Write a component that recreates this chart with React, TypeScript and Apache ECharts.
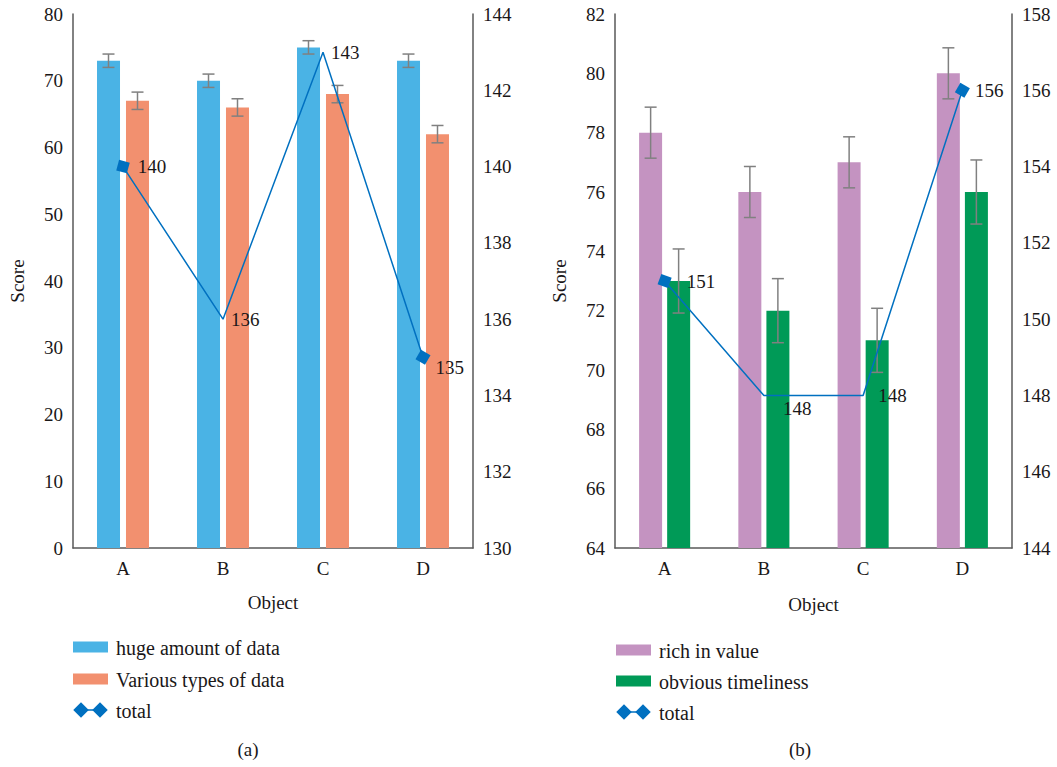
import React, { useEffect, useRef } from "react";
import * as echarts from "echarts";

// Objects on the horizontal axis (shared by both panels)
const categories = ["A", "B", "C", "D"];

// Panel (a)
const hugeAmount = [73, 70, 75, 73];
const hugeAmountErr = [1, 1, 1, 1];
const variousTypes = [67, 66, 68, 62];
const variousTypesErr = [1.3, 1.3, 1.3, 1.3];
const totalA = [140, 136, 143, 135];

// Panel (b)
const richValue = [78, 76, 77, 80];
const richValueErr = [0.86, 0.86, 0.86, 0.86];
const timeliness = [73, 72, 71, 76];
const timelinessErr = [1.08, 1.08, 1.08, 1.08];
const totalB = [151, 148, 148, 156];

const FONT = "Liberation Serif";
const FS = 19;
const LEGEND_FS = 20;
const TEXT = "#1a1718";
const AXIS = "#595959";
const ERR = "#808080";

const BLUE = "#4ab3e5";
const ORANGE = "#f2906f";
const PURPLE = "#c493c1";
const GREEN = "#009a57";
const LINE = "#0070c0";

function errorBars(offsetPx: number) {
  return (params: any, api: any) => {
    const cat = api.value(0);
    const lo = api.coord([cat, api.value(1)]);
    const hi = api.coord([cat, api.value(2)]);
    const x = lo[0] + offsetPx;
    const half = 6;
    const style = { stroke: ERR, lineWidth: 1.5 };
    return {
      type: "group",
      children: [
        { type: "line", shape: { x1: x, y1: hi[1], x2: x, y2: lo[1] }, style },
        { type: "line", shape: { x1: x - half, y1: hi[1], x2: x + half, y2: hi[1] }, style },
        { type: "line", shape: { x1: x - half, y1: lo[1], x2: x + half, y2: lo[1] }, style },
      ],
    };
  };
}

function errData(vals: number[], errs: number[]) {
  return vals.map((v, i) => [i, v - errs[i], v + errs[i]]);
}

const labelStyle = { fontFamily: FONT, fontSize: FS, color: TEXT };

function lineItem(value: number, marker: boolean, rotate: number, offset: number[]) {
  return {
    value,
    symbol: "rect",
    symbolSize: marker ? 11 : 0,
    symbolRotate: rotate,
    label: { show: true, position: "right", offset, ...labelStyle },
  };
}

function xAxis(gridIndex: number, nameGap: number) {
  return {
    type: "category",
    gridIndex,
    data: categories,
    axisLine: { show: true, lineStyle: { color: AXIS, width: 1.5 } },
    axisTick: { show: false },
    axisLabel: { ...labelStyle, margin: 11 },
    name: "Object",
    nameLocation: "middle",
    nameGap,
    nameTextStyle: labelStyle,
  };
}

function yAxis(gridIndex: number, position: string, min: number, max: number, interval: number, name?: string) {
  return {
    type: "value",
    gridIndex,
    position,
    min,
    max,
    interval,
    splitLine: { show: false },
    axisTick: { show: false },
    axisLine: { show: true, lineStyle: { color: AXIS, width: 1.5 } },
    axisLabel: { ...labelStyle, margin: 10 },
    name,
    nameLocation: "middle",
    nameGap: 46,
    nameTextStyle: labelStyle,
  };
}

function legendGraphics(x: number, ys: number[], names: string[], colors: string[]) {
  const out: any[] = [];
  for (let i = 0; i < 2; i++) {
    out.push({
      type: "rect",
      left: x,
      top: ys[i] - 5.5,
      shape: { width: 35, height: 11 },
      style: { fill: colors[i] },
    });
    out.push({
      type: "text",
      x: x + 43,
      y: ys[i] + 1,
      style: { text: names[i], fontFamily: FONT, fontSize: LEGEND_FS, fill: TEXT, verticalAlign: "middle" },
    });
  }
  const ty = ys[2];
  out.push({
    type: "line",
    shape: { x1: x + 8, y1: ty, x2: x + 27, y2: ty },
    style: { stroke: LINE, lineWidth: 1.5 },
  });
  [x + 8, x + 27].forEach((cx) =>
    out.push({
      type: "rect",
      x: cx,
      y: ty,
      rotation: Math.PI / 4,
      shape: { x: -5.5, y: -5.5, width: 11, height: 11 },
      style: { fill: LINE },
    })
  );
  out.push({
    type: "text",
    x: x + 43,
    y: ty + 1,
    style: { text: names[2], fontFamily: FONT, fontSize: LEGEND_FS, fill: TEXT, verticalAlign: "middle" },
  });
  return out;
}

export default function App() {
  const ref = useRef<HTMLDivElement>(null);

  useEffect(() => {
    if (!ref.current) return;
    const chart = echarts.init(ref.current, undefined, { renderer: "svg" });
    chart.setOption({
      animation: false,
      backgroundColor: "#ffffff",
      textStyle: { fontFamily: FONT },
      grid: [
        { left: 73, top: 14, width: 400, height: 534 },
        { left: 615, top: 14, width: 397, height: 534 },
      ],
      xAxis: [xAxis(0, 45), xAxis(1, 47)],
      yAxis: [
        yAxis(0, "left", 0, 80, 10, "Score"),
        yAxis(0, "right", 130, 144, 2),
        yAxis(1, "left", 64, 82, 2, "Score"),
        yAxis(1, "right", 144, 158, 2),
      ],
      series: [
        {
          type: "bar",
          name: "huge amount of data",
          xAxisIndex: 0,
          yAxisIndex: 0,
          data: hugeAmount,
          barWidth: 23,
          barGap: "26%",
          itemStyle: { color: BLUE },
        },
        {
          type: "bar",
          name: "Various types of data",
          xAxisIndex: 0,
          yAxisIndex: 0,
          data: variousTypes,
          barWidth: 23,
          barGap: "26%",
          itemStyle: { color: ORANGE },
        },
        {
          type: "custom",
          xAxisIndex: 0,
          yAxisIndex: 0,
          renderItem: errorBars(-14.5),
          encode: { x: 0, y: [1, 2] },
          data: errData(hugeAmount, hugeAmountErr),
          z: 3,
        },
        {
          type: "custom",
          xAxisIndex: 0,
          yAxisIndex: 0,
          renderItem: errorBars(14.5),
          encode: { x: 0, y: [1, 2] },
          data: errData(variousTypes, variousTypesErr),
          z: 3,
        },
        {
          type: "line",
          name: "total",
          xAxisIndex: 0,
          yAxisIndex: 1,
          lineStyle: { color: LINE, width: 1.5 },
          itemStyle: { color: LINE },
          z: 4,
          data: [
            lineItem(totalA[0], true, -15, [3, 0]),
            lineItem(totalA[1], false, 0, [3, 0]),
            lineItem(totalA[2], false, 0, [3, 0]),
            lineItem(totalA[3], true, -30, [0, 10]),
          ],
        },
        {
          type: "bar",
          name: "rich in value",
          xAxisIndex: 1,
          yAxisIndex: 2,
          data: richValue,
          barWidth: 23,
          barGap: "22%",
          itemStyle: { color: PURPLE },
        },
        {
          type: "bar",
          name: "obvious timeliness",
          xAxisIndex: 1,
          yAxisIndex: 2,
          data: timeliness,
          barWidth: 23,
          barGap: "22%",
          itemStyle: { color: GREEN },
        },
        {
          type: "custom",
          xAxisIndex: 1,
          yAxisIndex: 2,
          renderItem: errorBars(-14),
          encode: { x: 0, y: [1, 2] },
          data: errData(richValue, richValueErr),
          z: 3,
        },
        {
          type: "custom",
          xAxisIndex: 1,
          yAxisIndex: 2,
          renderItem: errorBars(14),
          encode: { x: 0, y: [1, 2] },
          data: errData(timeliness, timelinessErr),
          z: 3,
        },
        {
          type: "line",
          name: "total",
          xAxisIndex: 1,
          yAxisIndex: 3,
          lineStyle: { color: LINE, width: 1.5 },
          itemStyle: { color: LINE },
          z: 4,
          data: [
            lineItem(totalB[0], true, -20, [10, 0]),
            lineItem(totalB[1], false, 0, [14, 13]),
            lineItem(totalB[2], false, 0, [10, 0]),
            lineItem(totalB[3], true, -30, [0, 0]),
          ],
        },
      ],
      graphic: [
        ...legendGraphics(73, [647, 679, 710], ["huge amount of data", "Various types of data", "total"], [BLUE, ORANGE]),
        ...legendGraphics(616, [650, 681, 712], ["rich in value", "obvious timeliness", "total"], [PURPLE, GREEN]),
        {
          type: "text",
          x: 248,
          y: 749,
          style: { text: "(a)", fontFamily: FONT, fontSize: FS, fill: TEXT, align: "center", verticalAlign: "middle" },
        },
        {
          type: "text",
          x: 800,
          y: 749,
          style: { text: "(b)", fontFamily: FONT, fontSize: FS, fill: TEXT, align: "center", verticalAlign: "middle" },
        },
      ],
    });
    return () => chart.dispose();
  }, []);

  return (
    <div
      ref={ref}
      style={{ position: "absolute", left: 0, top: 0, width: 1057, height: 767 }}
    />
  );
}
